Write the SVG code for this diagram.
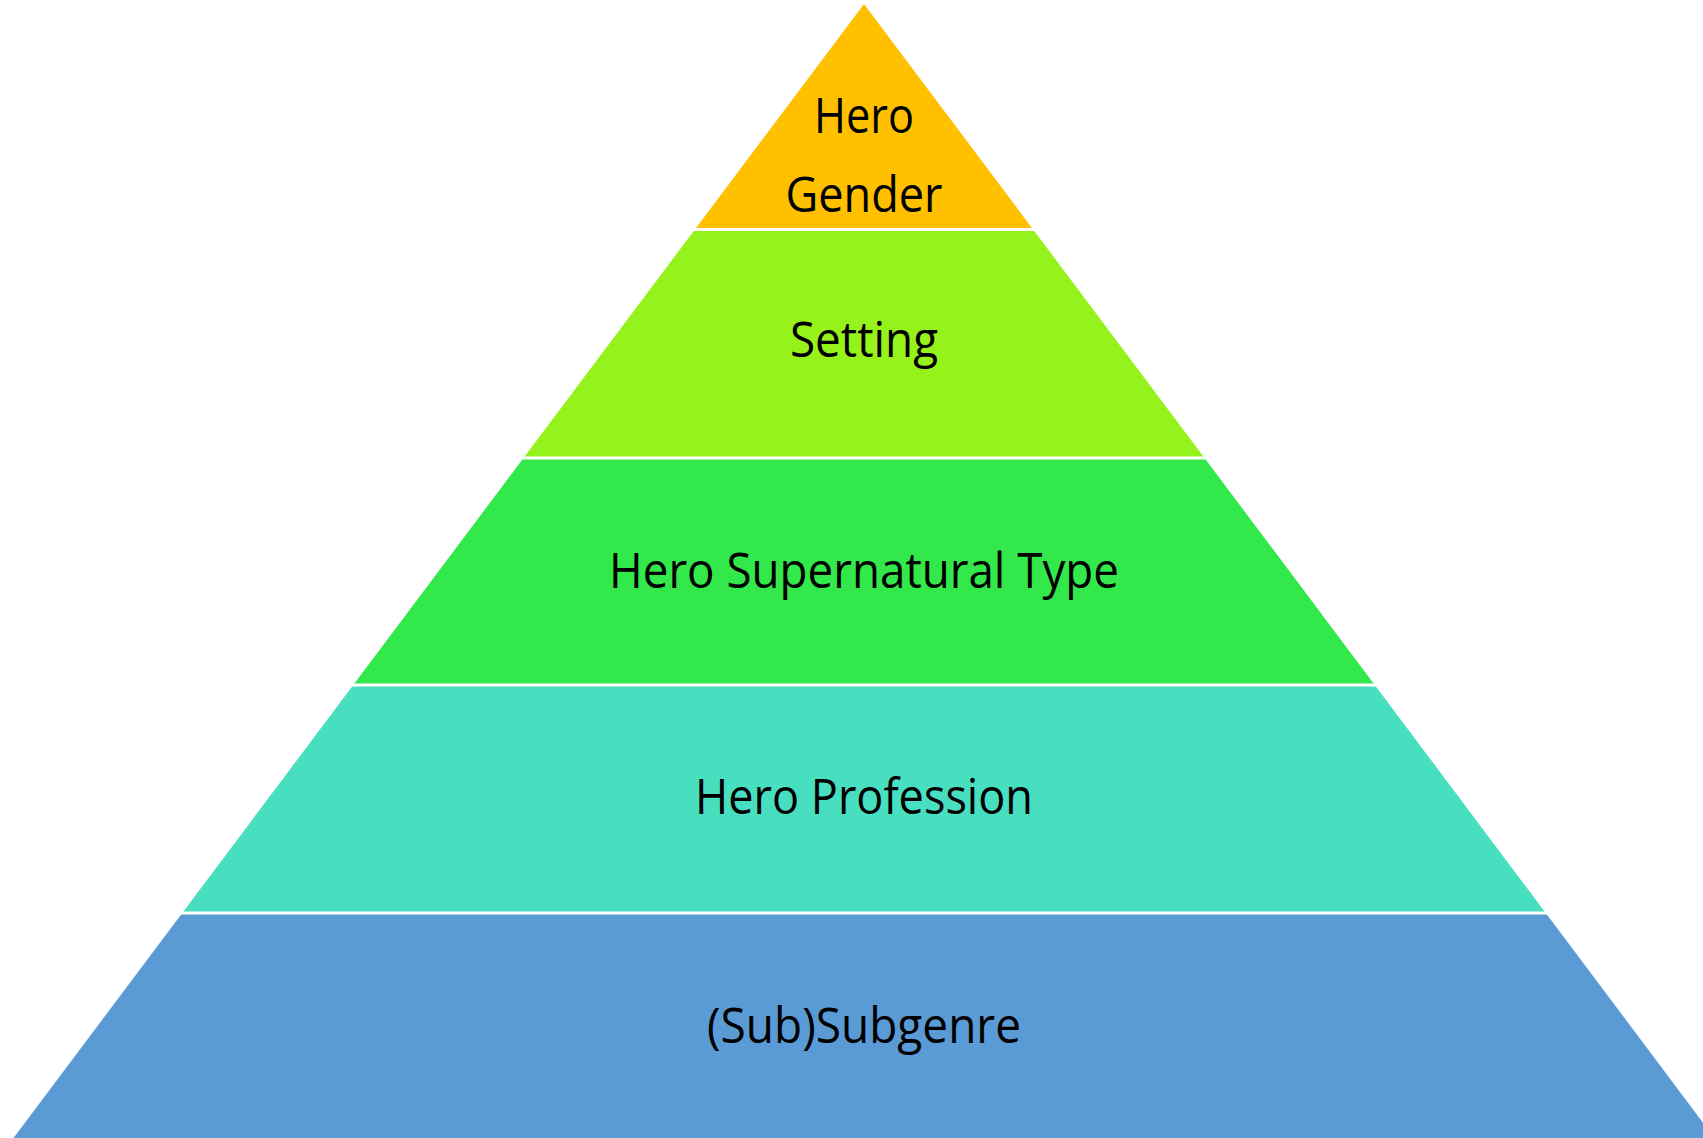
<svg xmlns="http://www.w3.org/2000/svg" width="1703" height="1138" viewBox="0 0 1703 1138">
  <style>
    .lbl { font-family: "Open Sans", "Noto Sans", "DejaVu Sans", sans-serif; font-size: 49px; fill: #000000; text-anchor: middle; }
    .sep { stroke: #ffffff; stroke-width: 3; }
  </style>
  <rect width="1703" height="1138" fill="#ffffff"/>
  <!-- pyramid levels, top to bottom -->
  <g id="level-gender">
    <polygon points="864,4 1033.1,229.5 694.9,229.5" fill="#FFC000"/>
    <text class="lbl" x="864" y="132.5" textLength="100" lengthAdjust="spacingAndGlyphs">Hero</text>
    <text class="lbl" x="864" y="212" textLength="157" lengthAdjust="spacingAndGlyphs">Gender</text>
  </g>
  <g id="level-setting">
    <polygon points="694.9,229.5 1033.1,229.5 1204.5,458 523.5,458" fill="#96F21B"/>
    <text class="lbl" x="864" y="357" textLength="148" lengthAdjust="spacingAndGlyphs">Setting</text>
  </g>
  <g id="level-supernatural">
    <polygon points="523.5,458 1204.5,458 1374.75,685 353.25,685" fill="#32E84A"/>
    <text class="lbl" x="864" y="587.5" textLength="510" lengthAdjust="spacingAndGlyphs">Hero Supernatural Type</text>
  </g>
  <g id="level-profession">
    <polygon points="353.25,685 1374.75,685 1545.75,913 182.25,913" fill="#48DEC0"/>
    <text class="lbl" x="864" y="813.5" textLength="338" lengthAdjust="spacingAndGlyphs">Hero Profession</text>
  </g>
  <g id="level-subgenre">
    <polygon points="182.25,913 1545.75,913 1716,1140 12,1140" fill="#5B9BD5"/>
    <text class="lbl" x="864" y="1042.5" textLength="314" lengthAdjust="spacingAndGlyphs">(Sub)Subgenre</text>
  </g>
  <!-- white gaps between levels -->
  <g id="connectors">
    <line class="sep" x1="680" y1="229.5" x2="1048" y2="229.5"/>
    <line class="sep" x1="510" y1="458" x2="1218" y2="458"/>
    <line class="sep" x1="340" y1="685" x2="1388" y2="685"/>
    <line class="sep" x1="170" y1="913" x2="1558" y2="913"/>
  </g>
</svg>
